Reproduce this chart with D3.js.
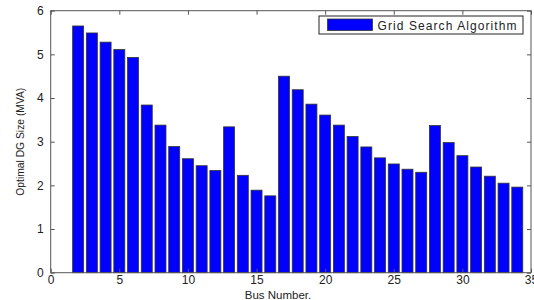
<!DOCTYPE html>
<html>
<head>
<meta charset="utf-8">
<script src="https://d3js.org/d3.v7.min.js"></script>
<style>
  body { margin: 0; background: #fff; }
  text { font-family: "Liberation Sans", Arial, sans-serif; fill: #222; }
</style>
</head>
<body>
<div id="chart"></div>
<script>
// dados
var barras = [2,3,4,5,6,7,8,9,10,11,12,13,14,15,16,17,18,19,20,21,22,23,24,25,26,27,28,29,30,31,32,33,34];
var tamanhoDG = [5.65,5.49,5.28,5.11,4.93,3.84,3.38,2.89,2.61,2.45,2.34,3.34,2.23,1.89,1.76,
                 4.50,4.19,3.86,3.61,3.38,3.12,2.88,2.63,2.49,2.37,2.30,3.37,2.98,2.68,2.42,2.21,2.05,1.96];
var ticksX = [0,5,10,15,20,25,30,35];
var ticksY = [0,1,2,3,4,5,6];
var legenda = "Grid Search Algorithm";

var largura = 534, altura = 300;
var margin = {top: 10.7, right: 3, bottom: 27.3, left: 50.7};
var larguraVis = largura - margin.left - margin.right,
    alturaVis = altura - margin.top - margin.bottom;

var svg = d3.select('#chart').append('svg')
    .attr('width', largura).attr('height', altura);
var grafico = svg.append('g')
    .attr('transform', 'translate(' + margin.left + ',' + margin.top + ')');

var x = d3.scaleLinear().domain([0, 35]).range([0, larguraVis]);
var y = d3.scaleLinear().domain([0, 6]).range([alturaVis, 0]);
var w = x(0.8) - x(0);

var dados = barras.map((b, i) => ({bus: b, valor: tamanhoDG[i]}));

grafico.selectAll('rect.barra')
  .data(dados)
  .enter().append('rect')
    .attr('class', 'barra')
    .attr('x', d => x(d.bus) - w / 2)
    .attr('y', d => y(d.valor))
    .attr('width', w)
    .attr('height', d => y(0) - y(d.valor))
    .attr('fill', '#0000ff')
    .attr('stroke', '#333')
    .attr('stroke-width', 0.8);

// eixos (estilo matlab, ticks para dentro)
var corEixo = '#555';
var fmt = d3.format('d');
function estilo(g) {
  g.select('.domain').remove();
  g.selectAll('line').attr('stroke', corEixo);
  g.selectAll('text').style('font-size', '12px').attr('fill', '#222');
}
grafico.append('g')
  .attr('transform', 'translate(0,' + alturaVis + ')')
  .call(d3.axisBottom(x).tickValues(ticksX).tickFormat(fmt).tickSizeInner(-4).tickSizeOuter(0).tickPadding(3))
  .call(estilo);
grafico.append('g')
  .call(d3.axisTop(x).tickValues(ticksX).tickSizeInner(-4).tickSizeOuter(0).tickFormat(''))
  .call(estilo);
grafico.append('g')
  .call(d3.axisLeft(y).tickValues(ticksY).tickFormat(fmt).tickSizeInner(-4).tickSizeOuter(0).tickPadding(7))
  .call(estilo);
grafico.append('g')
  .attr('transform', 'translate(' + larguraVis + ',0)')
  .call(d3.axisRight(y).tickValues(ticksY).tickSizeInner(-4).tickSizeOuter(0).tickFormat(''))
  .call(estilo);

grafico.append('rect')
  .attr('x', 0).attr('y', 0)
  .attr('width', larguraVis).attr('height', alturaVis)
  .attr('fill', 'none').attr('stroke', corEixo).attr('stroke-width', 1);

// rotulos
svg.append('text')
  .attr('transform', 'translate(24,' + (margin.top + alturaVis / 2) + ') rotate(-90)')
  .attr('text-anchor', 'middle')
  .style('font-size', '11px')
  .style('font-stretch', 'condensed')
  .attr('textLength', 108)
  .attr('lengthAdjust', 'spacingAndGlyphs')
  .text('Optimal DG Size (MVA)');
svg.append('text')
  .attr('x', 278).attr('y', 298.5)
  .attr('text-anchor', 'middle')
  .style('font-size', '11.5px')
  .text('Bus Number.');

// legenda
var leg = svg.append('g');
leg.append('rect')
  .attr('x', 319).attr('y', 16).attr('width', 204).attr('height', 18)
  .attr('fill', '#fff').attr('stroke', '#222').attr('stroke-width', 1);
leg.append('rect')
  .attr('x', 327.5).attr('y', 19).attr('width', 45).attr('height', 11.5)
  .attr('fill', '#0000ff').attr('stroke', '#333').attr('stroke-width', 0.8);
leg.append('text')
  .attr('x', 377.5).attr('y', 29.5)
  .style('font-size', '12px')
  .attr('textLength', 139)
  .attr('lengthAdjust', 'spacing')
  .text(legenda);
</script>
</body>
</html>
